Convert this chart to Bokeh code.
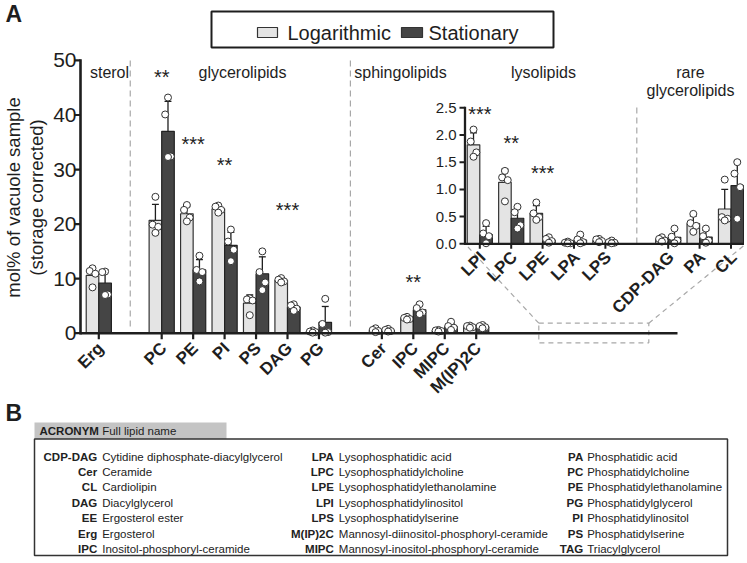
from math import pi
from bokeh.plotting import figure
from bokeh.models import Range1d
from bokeh.core.properties import value
from bokeh.embed import file_html
from bokeh.resources import INLINE

FONT = "Liberation Sans"
LIGHT = "#e4e4e4"
DARK = "#454545"
INK = "#1e1e1e"
DASH = "#a8a8a8"

# ---------------- data (mol% of vacuole sample) ----------------
main_lipids = ["Erg", "PC", "PE", "PI", "PS", "DAG", "PG", "Cer", "IPC", "MIPC", "M(IP)2C"]
main_pos = [0, 2, 3, 4, 5, 6, 7, 9, 10, 11, 12]
log_mean = [10.6, 20.7, 21.9, 22.8, 5.5, 9.7, 0.3, 0.5, 2.75, 0.45, 1.2]
log_sd = [1.5, 2.9, 1.3, 0.6, 1.5, 0.35, 0.2, 0.3, 0.25, 0.15, 0.2]
stat_mean = [9.2, 37.0, 11.6, 16.1, 10.9, 4.8, 2.0, 0.5, 4.3, 1.2, 1.2]
stat_sd = [2.4, 5.5, 1.9, 2.4, 3.1, 0.6, 2.9, 0.25, 0.8, 0.6, 0.25]
log_pts = [[11.9, 11.4, 10.9, 8.4], [25.0, 19.9, 19.5, 18.4], [23.5, 22.6, 21.2, 20.5],
           [23.4, 23.2, 22.6, 22.1], [6.4, 6.2, 6.0, 3.3], [10.1, 9.8, 9.5, 9.3],
           [0.5, 0.3, 0.2, 0.1], [0.9, 0.6, 0.4, 0.2], [3.0, 2.8, 2.6, 2.5],
           [0.6, 0.5, 0.4, 0.3], [1.4, 1.3, 1.1, 1.0]]
stat_pts = [[11.3, 11.2, 7.1, 7.0], [43.2, 40.1, 32.4, 32.3], [14.2, 11.6, 11.2, 9.5],
            [19.0, 16.8, 15.3, 13.2], [15.0, 11.2, 9.3, 7.9], [5.3, 5.1, 4.5, 4.1],
            [6.3, 1.7, 0.2, 0.1], [0.8, 0.6, 0.4, 0.3], [5.3, 4.6, 3.8, 3.5],
            [2.1, 1.3, 1.0, 0.6], [1.5, 1.3, 1.1, 0.9]]

# inset (lysolipids and rare glycerolipids)
in_lipids = ["LPI", "LPC", "LPE", "LPA", "LPS", "CDP-DAG", "PA", "CL"]
in_pos = [0, 1, 2, 3, 4, 6, 7, 8]
in_log_mean = [1.82, 1.13, 0.56, 0.02, 0.06, 0.08, 0.37, 0.64]
in_log_sd = [0.22, 0.24, 0.14, 0.02, 0.02, 0.03, 0.14, 0.36]
in_stat_mean = [0.17, 0.47, 0.07, 0.07, 0.03, 0.12, 0.125, 1.07]
in_stat_sd = [0.15, 0.19, 0.04, 0.07, 0.02, 0.13, 0.12, 0.45]
in_log_pts = [[2.10, 1.88, 1.68, 1.60], [1.34, 1.22, 1.17, 0.78], [0.76, 0.56, 0.49, 0.44],
              [0.04, 0.02, 0.01, 0.01], [0.09, 0.08, 0.05, 0.03], [0.12, 0.09, 0.06, 0.04],
              [0.55, 0.38, 0.33, 0.22], [1.18, 0.49, 0.46, 0.43]]
in_stat_pts = [[0.38, 0.19, 0.14, 0.01], [0.68, 0.58, 0.34, 0.28], [0.12, 0.09, 0.05, 0.02],
               [0.17, 0.08, 0.03, 0.01], [0.06, 0.03, 0.02, 0.01], [0.28, 0.13, 0.06, 0.01],
               [0.28, 0.14, 0.06, 0.02], [1.50, 1.29, 1.04, 0.46]]

# significance marks
sig_cats = ["PC", "PE", "PI", "DAG", "IPC"]
sig_marks = ["**", "***", "**", "***", "**"]
sig_y = [47.6, 35.2, 31.4, 23.1, 10.0]
in_sig_cats = ["LPI", "LPC", "LPE"]
in_sig_marks = ["***", "**", "***"]
in_sig_y = [2.45, 1.90, 1.35]

y_ticks = [0, 10, 20, 30, 40, 50]
in_y_ticks = [0.0, 0.5, 1.0, 1.5, 2.0, 2.5]
in_y_labels = ["0.0", "0.5", "1.0", "1.5", "2.0", "2.5"]

groups = ["sterol", "glycerolipids", "sphingolipids", "lysolipids", "rare", "glycerolipids"]

tbl_acr = [["CDP-DAG", "Cer", "CL", "DAG", "EE", "Erg", "IPC"],
           ["LPA", "LPC", "LPE", "LPI", "LPS", "M(IP)2C", "MIPC"],
           ["PA", "PC", "PE", "PG", "PI", "PS", "TAG"]]
tbl_name = [["Cytidine diphosphate-diacylglycerol", "Ceramide", "Cardiolipin", "Diacylglycerol",
             "Ergosterol ester", "Ergosterol", "Inositol-phosphoryl-ceramide"],
            ["Lysophosphatidic acid", "Lysophosphatidylcholine", "Lysophosphatidylethanolamine",
             "Lysophosphatidylinositol", "Lysophosphatidylserine",
             "Mannosyl-diinositol-phosphoryl-ceramide", "Mannosyl-inositol-phosphoryl-ceramide"],
            ["Phosphatidic acid", "Phosphatidylcholine", "Phosphatidylethanolamine",
             "Phosphatidylglycerol", "Phosphatidylinositol", "Phosphatidylserine", "Triacylglycerol"]]

# ---------------- scales (picture pixel anchors) ----------------
W, H = 744, 560
L0, T0 = 0, 0
UX, X0 = 31.45, 98.3        # main x: px per category, x of Erg
UY, Y0 = 5.455, 332.7       # main y: px per mol%, y of 0
UXI, XI0 = 31.4, 479.3      # inset x
UYI, YI0 = 54.4, 243.3      # inset y

p = figure(width=W, height=H, output_backend="svg", toolbar_location=None,
           x_axis_type=None, y_axis_type=None, min_border=0,
           outline_line_color=None, background_fill_color="white",
           x_range=Range1d((L0 - X0) / UX, (L0 + W - X0) / UX),
           y_range=Range1d((Y0 - (T0 + H)) / UY, (Y0 - T0) / UY))
p.extra_x_ranges = {"in": Range1d((L0 - XI0) / UXI, (L0 + W - XI0) / UXI),
                    "px": Range1d(L0, L0 + W)}
p.extra_y_ranges = {"in": Range1d((YI0 - (T0 + H)) / UYI, (YI0 - T0) / UYI),
                    "px": Range1d(T0 + H, T0)}

F = value(FONT)


def txt(x, y, t, size, xr="default", yr="default", bold=False, align="center",
        base="middle", angle=0.0, color=INK, xo=0, yo=0):
    p.text(x=x, y=y, text=t, x_range_name=xr, y_range_name=yr, text_font=F,
           text_font_size=size, text_font_style="bold" if bold else "normal",
           text_align=align, text_baseline=base, angle=angle, text_color=color,
           x_offset=xo, y_offset=yo)


# ---------------- dashed guides ----------------
p.segment(x0=[1.0, 8.0], x1=[1.0, 8.0], y0=[60, 60], y1=[327, 327], y_range_name="px",
          line_color=DASH, line_dash="6 4", line_width=1.2)
p.segment(x0=[5.0], x1=[5.0], y0=[107], y1=[YI0], x_range_name="in", y_range_name="px",
          line_color=DASH, line_dash="6 4", line_width=1.2)
p.quad(left=[538.3], right=[648.3], top=[322.7], bottom=[342.3], x_range_name="px",
       y_range_name="px", fill_color=None, line_color=DASH, line_dash="5 4", line_width=1.2)
p.segment(x0=[538.3, 648.3], y0=[322.7, 322.7], x1=[464.5, 748], y1=[YI0, YI0 - 2],
          x_range_name="px", y_range_name="px", line_color=DASH, line_dash="5 4", line_width=1.2)

# ---------------- bars, errors, dots ----------------
JIT = [0.0, -0.09, 0.09, 0.0]
BW = 0.4


def bars(pos, means, sds, pts, side, fill, line, xr, yr, cap=0.11):
    xs = [q + side * BW / 2 for q in pos]
    p.vbar(x=xs, top=means, bottom=0, width=BW, fill_color=fill, line_color=line,
           line_width=1.2, x_range_name=xr, y_range_name=yr)
    tops = [m + s for m, s in zip(means, sds)]
    p.segment(x0=xs, x1=xs, y0=means, y1=tops, line_color=INK, line_width=1.3,
              x_range_name=xr, y_range_name=yr)
    p.segment(x0=[x - cap for x in xs], x1=[x + cap for x in xs], y0=tops, y1=tops,
              line_color=INK, line_width=1.3, x_range_name=xr, y_range_name=yr)
    dx, dy = [], []
    for x, vals in zip(xs, pts):
        for j, v in enumerate(vals):
            dx.append(x + JIT[j])
            dy.append(v)
    p.scatter(x=dx, y=dy, size=7, marker="circle", fill_color="white", line_color="#333333",
              line_width=1.0, x_range_name=xr, y_range_name=yr)


bars(main_pos, log_mean, log_sd, log_pts, -1, LIGHT, "#333333", "default", "default")
bars(main_pos, stat_mean, stat_sd, stat_pts, 1, DARK, "#222222", "default", "default")
bars(in_pos, in_log_mean, in_log_sd, in_log_pts, -1, LIGHT, "#333333", "in", "in")
bars(in_pos, in_stat_mean, in_stat_sd, in_stat_pts, 1, DARK, "#222222", "in", "in")

# ---------------- main axes ----------------
p.segment(x0=[80], x1=[80], y0=[0], y1=[50], x_range_name="px", line_color=INK,
          line_width=2.6, line_cap="square")
p.segment(x0=[73.5] * len(y_ticks), x1=[80] * len(y_ticks), y0=y_ticks, y1=y_ticks,
          x_range_name="px", line_color=INK, line_width=2.2)
txt([76] * len(y_ticks), y_ticks, [str(t) for t in y_ticks], "21px", xr="px", align="right")
p.segment(x0=[80], x1=[677], y0=[Y0], y1=[Y0], x_range_name="px", y_range_name="px",
          line_color=INK, line_width=2.6)
p.segment(x0=main_pos, x1=main_pos, y0=[Y0] * len(main_pos), y1=[Y0 + 6] * len(main_pos),
          y_range_name="px", line_color=INK, line_width=2.2)
txt(main_pos, [345] * len(main_pos), main_lipids, "17px", yr="px", bold=True,
    align="right", angle=pi / 4, xo=2)
txt([13, 36], [197, 197], ["mol% of vacuole sample", "(storage corrected)"], "18.5px",
    xr="px", yr="px", angle=pi / 2)

# ---------------- inset axes ----------------
p.segment(x0=[464.5], x1=[464.5], y0=[0], y1=[2.5], x_range_name="px", y_range_name="in",
          line_color=INK, line_width=2.3, line_cap="square")
p.segment(x0=[459] * len(in_y_ticks), x1=[464.5] * len(in_y_ticks), y0=in_y_ticks,
          y1=in_y_ticks, x_range_name="px", y_range_name="in", line_color=INK, line_width=2)
txt([456] * len(in_y_ticks), in_y_ticks, in_y_labels, "15px", xr="px", yr="in", align="right")
p.segment(x0=[464.5], x1=[748], y0=[YI0], y1=[YI0], x_range_name="px", y_range_name="px",
          line_color=INK, line_width=2.3)
p.segment(x0=in_pos, x1=in_pos, y0=[YI0] * len(in_pos), y1=[YI0 + 5] * len(in_pos),
          x_range_name="in", y_range_name="px", line_color=INK, line_width=2)
txt(in_pos, [254] * len(in_pos), in_lipids, "17px", xr="in", yr="px", bold=True,
    align="right", angle=pi / 4, xo=3)

# ---------------- significance ----------------
sig_x = [main_pos[main_lipids.index(c)] for c in sig_cats]
txt(sig_x, sig_y, sig_marks, "20px", yo=3)
in_sig_x = [in_pos[in_lipids.index(c)] for c in in_sig_cats]
txt(in_sig_x, in_sig_y, in_sig_marks, "20px", xr="in", yr="in", yo=3)

# ---------------- group labels ----------------
txt([109, 242, 400, 543, 690, 690], [72, 72, 72, 72, 72, 90], groups, "16px",
    xr="px", yr="px")

# ---------------- legend ----------------
p.quad(left=[211], right=[553], top=[11], bottom=[47], x_range_name="px", y_range_name="px",
       fill_color=None, line_color=INK, line_width=2)
p.quad(left=[257, 401], right=[277, 422], top=[27, 27], bottom=[37, 37],
       x_range_name="px", y_range_name="px", fill_color=[LIGHT, DARK],
       line_color="#333333", line_width=1.2)
txt([287, 428], [32, 32], ["Logarithmic", "Stationary"], "20px", xr="px", yr="px",
    align="left")

# ---------------- panel letters ----------------
txt([5, 5], [13, 412], ["A", "B"], "23px", xr="px", yr="px", bold=True, align="left")

# ---------------- table B ----------------
p.quad(left=[34], right=[226], top=[422], bottom=[438.5], x_range_name="px",
       y_range_name="px", fill_color="#c4c4c4", line_color=None)
txt([39], [430.5], ["ACRONYM"], "11.5px", xr="px", yr="px", bold=True, align="left")
txt([101.7], [430.5], ["Full lipid name"], "11.5px", xr="px", yr="px", align="left")
p.quad(left=[34], right=[727], top=[438.5], bottom=[555], x_range_name="px",
       y_range_name="px", fill_color=None, line_color="#333333", line_width=1.5)
acr_right = [96.7, 333.3, 582.7]
name_left = [101.7, 338.3, 586.7]
for c in range(3):
    ys = [456 + 15.4 * r for r in range(len(tbl_acr[c]))]
    txt([acr_right[c]] * len(ys), ys, tbl_acr[c], "11.5px", xr="px", yr="px", bold=True,
        align="right", color="#222222")
    txt([name_left[c]] * len(ys), ys, tbl_name[c], "11.5px", xr="px", yr="px",
        align="left", color="#222222")

open("out.html", "w").write(file_html(p, INLINE))
